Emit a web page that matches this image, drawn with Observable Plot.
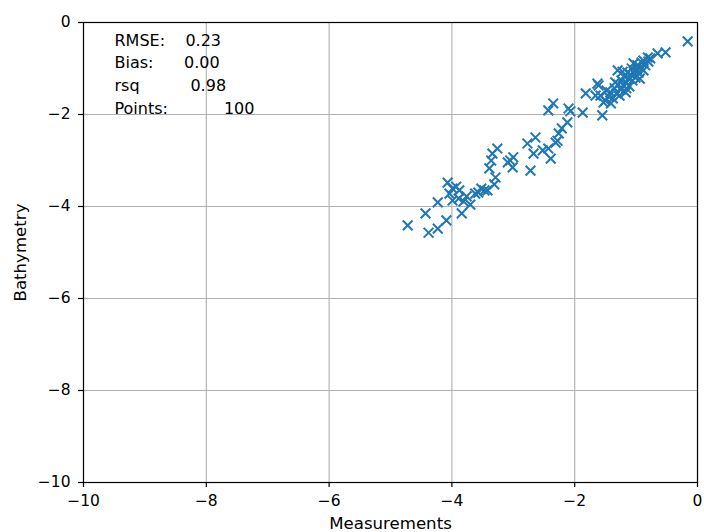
<!DOCTYPE html>
<html>
<head>
<meta charset="utf-8">
<script src="https://cdn.jsdelivr.net/npm/d3@7"></script>
<script src="https://cdn.jsdelivr.net/npm/@observablehq/plot@0.6"></script>
<style>
  html, body { margin: 0; padding: 0; background: white; }
  svg text.stats { white-space: pre; }
</style>
</head>
<body>
<div id="chart"></div>
<script>
const measurements = [
  -4.72, -4.43, -4.38, -4.23, -4.09, -4.23, -4.07, -4.04, -3.93, -3.89,
  -3.84, -3.81, -3.99, -3.70, -3.62, -3.52, -3.42, -3.31, -3.29, -3.39,
  -3.36, -3.26, -3.47, -3.88, -3.76, -3.57, -3.99, -3.34, -3.09, -3.00,
  -3.01, -3.05, -2.72, -2.77, -2.64, -2.67, -2.52, -2.43, -2.39, -2.31,
  -2.26, -2.28, -2.21, -2.12, -2.07, -2.10, -2.43, -2.35, -1.87, -1.82,
  -1.61, -1.58, -1.55, -1.66, -1.50, -1.45, -1.42, -1.38, -1.35, -1.32,
  -1.30, -1.29, -1.25, -1.24, -1.21, -1.19, -1.17, -1.16, -1.14, -1.12,
  -1.11, -1.09, -1.07, -1.06, -1.04, -1.03, -1.01, -0.99, -0.98, -0.96,
  -0.93, -0.91, -0.88, -0.85, -0.81, -0.80, -0.77, -0.65, -0.52, -0.16,
  -1.27, -1.41, -1.48, -1.22, -1.16, -0.94, -1.34, -0.88, -1.53, -1.63
];
const bathymetry = [
  -4.41, -4.15, -4.57, -4.48, -4.30, -3.91, -3.48, -3.72, -3.57, -3.83,
  -4.15, -3.89, -3.87, -3.96, -3.72, -3.61, -3.65, -3.52, -3.37, -3.17,
  -3.00, -2.74, -3.65, -3.65, -3.78, -3.70, -3.61, -2.85, -3.04, -2.93,
  -3.15, -3.00, -3.22, -2.63, -2.50, -2.85, -2.78, -2.74, -2.96, -2.61,
  -2.41, -2.57, -2.30, -2.17, -1.93, -1.87, -1.91, -1.76, -1.96, -1.54,
  -1.37, -1.59, -2.02, -1.59, -1.70, -1.61, -1.52, -1.65, -1.43, -1.54,
  -1.04, -1.35, -1.46, -1.26, -1.37, -1.17, -1.52, -1.30, -1.09, -1.22,
  -1.39, -1.13, -1.00, -1.26, -0.89, -1.11, -1.20, -1.02, -0.93, -1.09,
  -0.98, -0.87, -0.83, -0.93, -0.76, -0.85, -0.78, -0.67, -0.65, -0.41,
  -1.59, -1.76, -1.48, -1.07, -1.43, -1.22, -1.30, -1.04, -1.74, -1.33
];
const xTicks = [-10, -8, -6, -4, -2, 0];
const yTicks = [-10, -8, -6, -4, -2, 0];
const statLabels = ["RMSE:    0.23", "Bias:      0.00", "rsq          0.98", "Points:           100"];

const points = measurements.map((m, i) => ({m, b: bathymetry[i]}));

const chart = Plot.plot({
  width: 704,
  height: 532,
  marginLeft: 83,
  marginRight: 7,
  marginTop: 22,
  marginBottom: 50,
  style: {fontFamily: "'DejaVu Sans', sans-serif", fontSize: "15.5px", color: "black", background: "white"},
  x: {domain: [-10, 0]},
  y: {domain: [-10, 0]},
  marks: [
    Plot.gridX(xTicks, {stroke: "#b0b0b0", strokeOpacity: 1, strokeWidth: 1.1}),
    Plot.gridY(yTicks, {stroke: "#b0b0b0", strokeOpacity: 1, strokeWidth: 1.1}),
    Plot.axisX(xTicks, {tickSize: 5, tickPadding: 7, strokeWidth: 1.2, label: null, fill: "black"}),
    Plot.axisY(yTicks, {tickSize: 5, tickPadding: 8, strokeWidth: 1.2, label: null, fill: "black"}),
    Plot.axisX({label: "Measurements", labelAnchor: "center", labelArrow: "none", labelOffset: 46, ticks: [], fontSize: "16.6px", fill: "black"}),
    Plot.axisY({label: "Bathymetry", labelAnchor: "center", labelArrow: "none", labelOffset: 69, ticks: [], fontSize: "16.6px", fill: "black"}),
    Plot.frame({stroke: "black", strokeWidth: 1.2}),
    Plot.dot(points, {x: "m", y: "b", symbol: "times", r: 4.5, stroke: "#1f77b4", strokeWidth: 2}),
    Plot.text([statLabels.join("\n")], {frameAnchor: "top-left", dx: 31, dy: 7, lineAnchor: "top", lineHeight: 1.42, fontSize: "16px", textAnchor: "start", fill: "black", className: "stats"})
  ]
});
document.getElementById("chart").appendChild(chart);
</script>
</body>
</html>
